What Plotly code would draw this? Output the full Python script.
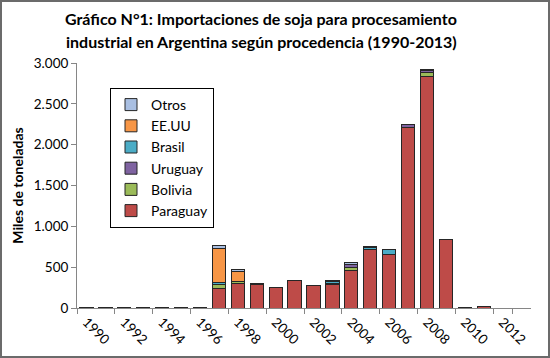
import plotly.graph_objects as go

years = [str(y) for y in range(1990, 2014)]
tick_years = [str(y) for y in range(1990, 2014, 2)]

paraguay = [8, 8, 8, 8, 8, 8, 8, 236, 298, 292, 249, 338, 270, 282, 457, 718, 657, 2205, 2838, 833, 6, 18, 0, 0]
bolivia = [0, 0, 0, 0, 0, 0, 0, 50, 28, 10, 0, 0, 0, 15, 41, 0, 0, 0, 40, 0, 0, 0, 0, 0]
uruguay = [0, 0, 0, 0, 0, 0, 0, 0, 0, 0, 0, 0, 0, 0, 35, 0, 0, 45, 25, 0, 0, 0, 0, 0]
brasil = [0, 0, 0, 0, 0, 0, 0, 22, 0, 0, 0, 0, 0, 25, 0, 22, 55, 0, 0, 0, 0, 0, 0, 0]
eeuu = [0, 0, 0, 0, 0, 0, 0, 421, 115, 0, 0, 0, 0, 0, 0, 0, 0, 0, 0, 0, 0, 0, 0, 0]
otros = [0, 0, 0, 0, 0, 0, 0, 40, 28, 0, 0, 0, 0, 12, 25, 15, 0, 0, 15, 0, 0, 0, 0, 0]

title_lines = [
    "Gráfico N°1: Importaciones de soja para procesamiento",
    "industrial en Argentina según procedencia (1990-2013)",
]

series = [
    ("Paraguay", paraguay, "#BE4B48"),
    ("Bolivia", bolivia, "#9BBB59"),
    ("Uruguay", uruguay, "#7F63A1"),
    ("Brasil", brasil, "#4BACC6"),
    ("EE.UU", eeuu, "#F79646"),
    ("Otros", otros, "#A9BFE2"),
]

fig = go.Figure()
for name, vals, col in series:
    fig.add_trace(go.Bar(
        x=years, y=vals, name=name,
        marker=dict(color=col, line=dict(color="#262626", width=1)),
    ))

W, H = 550, 358
L, R, T, B = 77, 19, 63, 50
pw, ph = W - L - R, H - T - B
FONT = "Lato, 'Open Sans', sans-serif"

annotations = []
for i, (txt, yc) in enumerate(zip(title_lines, [18, 41])):
    annotations.append(dict(
        text="<b>" + txt + "</b>", xref="paper", yref="paper",
        x=(261 - L) / pw, y=(H - B - yc) / ph, xanchor="center", yanchor="middle",
        showarrow=False, font=dict(size=16, family=FONT, color="#000000"),
    ))

fig.update_layout(
    width=W, height=H,
    barmode="stack", bargap=0.3,
    separators=",.",
    paper_bgcolor="white", plot_bgcolor="white",
    font=dict(family=FONT, size=13, color="#000000"),
    margin=dict(l=L, r=R, t=T, b=B, autoexpand=False),
    annotations=annotations,
    legend=dict(
        x=(110 - L) / pw, y=(H - B - 88) / ph, xanchor="left", yanchor="top",
        traceorder="reversed", bgcolor="white",
        bordercolor="#000000", borderwidth=1,
        font=dict(size=14),
    ),
    showlegend=True,
    shapes=[dict(
        type="rect", xref="paper", yref="paper",
        x0=-(L - 1) / pw, x1=1 + (R - 1) / pw,
        y0=-(B - 1) / ph, y1=1 + (T - 1) / ph,
        line=dict(color="#6b6b6b", width=2), fillcolor="rgba(0,0,0,0)", layer="below",
    )],
)

fig.update_xaxes(
    type="category", categoryorder="array", categoryarray=years,
    tickmode="array", tickvals=tick_years, ticktext=tick_years,
    tickangle=45, tickson="boundaries", automargin=False,
    showline=True, linecolor="#868686", linewidth=1,
    ticks="outside", ticklen=5, tickcolor="#868686",
    showgrid=False, tickfont=dict(size=13.5),
)
fig.update_yaxes(
    range=[0, 3000], tickvals=[0, 500, 1000, 1500, 2000, 2500, 3000],
    tickformat=",d", automargin=False,
    showline=True, linecolor="#868686", linewidth=1,
    ticks="outside", ticklen=5, tickcolor="#868686",
    showgrid=False, zeroline=False, tickfont=dict(size=13.5),
    title=dict(text="<b>Miles de toneladas</b>", font=dict(size=14), standoff=6),
)

fig.write_html(
    "out.html",
    config={"displayModeBar": False},
    post_script="document.body.style.margin='0';document.body.style.overflow='hidden';",
)
